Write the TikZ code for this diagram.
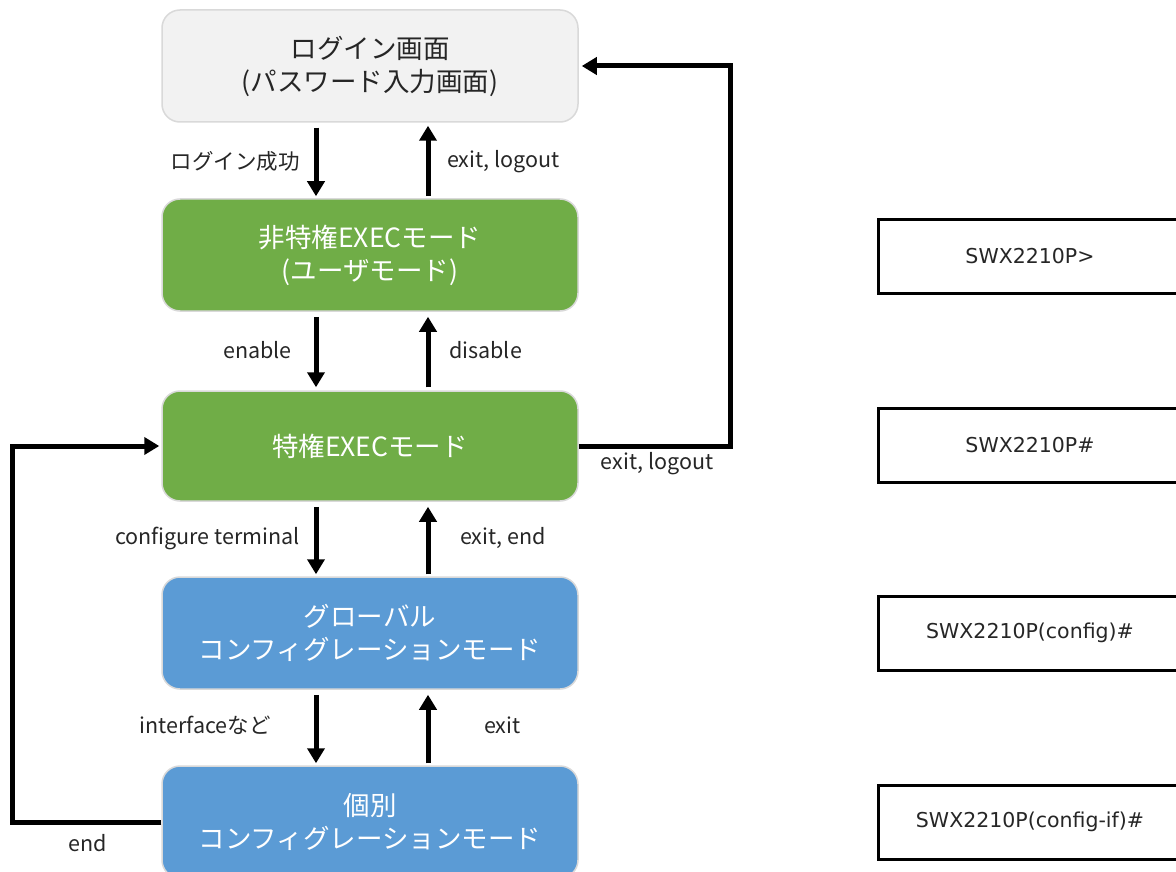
\documentclass[tikz,border=0pt]{standalone}
\usepackage{fontspec}
\setmainfont{Noto Sans CJK JP}
\newfontfamily\promptfont{DejaVu Sans}
\usetikzlibrary{arrows.meta}
\definecolor{boxgray}{HTML}{F2F2F2}
\definecolor{boxgreen}{HTML}{70AD47}
\definecolor{boxblue}{HTML}{5B9BD5}
\definecolor{edgegray}{HTML}{D9D9D9}
\definecolor{txt}{HTML}{262626}
\tikzset{
  mode/.style={draw=edgegray, line width=1.5pt, rounded corners=18pt, minimum width=416pt, minimum height=112pt, align=center, font=\fontsize{26.5}{33}\selectfont, inner sep=0pt},
  prompt/.style={draw=black, line width=3pt, minimum width=304pt, minimum height=74pt, font=\promptfont\fontsize{20.5}{24}\selectfont, text=txt, inner sep=0pt},
  arr/.style={line width=5pt, -{Triangle[width=17pt,length=15pt]}},
  loop/.style={line width=5pt, -{Triangle[width=17pt,length=15pt]}},
  lbl/.style={font=\fontsize{21.5}{25}\selectfont, text=txt, inner sep=0pt}
}
\begin{document}
\begin{tikzpicture}[x=1pt,y=-1pt]
\useasboundingbox (0,0) rectangle (1176,872);
\fill[white] (0,0) rectangle (1176,872);
% mode boxes
\node[mode, fill=boxgray, text=txt] (login) at (370,66) {ログイン画面\\(パスワード入力画面)};
\node[mode, fill=boxgreen, text=white] (user) at (370,255) {非特権EXECモード\\(ユーザモード)};
\node[mode, fill=boxgreen, text=white, minimum height=110pt] (priv) at (370,446) {特権EXECモード};
\node[mode, fill=boxblue, text=white] (glob) at (370,633) {グローバル\\コンフィグレーションモード};
\node[mode, fill=boxblue, text=white] (indiv) at (370,822) {個別\\コンフィグレーションモード};
% prompt boxes
\node[prompt] (p1) at (1030,256) {SWX2210P>};
\node[prompt] (p2) at (1030,445) {SWX2210P\#};
\node[prompt] (p3) at (1030,633) {SWX2210P(config)\#};
\node[prompt] (p4) at (1030,822) {SWX2210P(config-if)\#};
% vertical arrows
\draw[arr, shorten <=5pt, shorten >=2pt] ([xshift=-54pt]login.south) -- ([xshift=-54pt]user.north);
\draw[arr, shorten <=2pt, shorten >=3pt] ([xshift=58pt]user.north) -- ([xshift=58pt]login.south);
\draw[arr, shorten <=5pt, shorten >=3pt] ([xshift=-54pt]user.south) -- ([xshift=-54pt]priv.north);
\draw[arr, shorten <=3pt, shorten >=5pt] ([xshift=58pt]priv.north) -- ([xshift=58pt]user.south);
\draw[arr, shorten <=5pt, shorten >=2pt] ([xshift=-54pt]priv.south) -- ([xshift=-54pt]glob.north);
\draw[arr, shorten <=2pt, shorten >=5pt] ([xshift=58pt]glob.north) -- ([xshift=58pt]priv.south);
\draw[arr, shorten <=5pt, shorten >=2pt] ([xshift=-54pt]glob.south) -- ([xshift=-54pt]indiv.north);
\draw[arr, shorten <=2pt, shorten >=5pt] ([xshift=58pt]indiv.north) -- ([xshift=58pt]glob.south);
% arrow labels
\node[lbl, anchor=east] (l1) at (300,161) {ログイン成功};
\node[lbl, anchor=west] (l2) at (447,162) {exit, logout};
\node[lbl, anchor=east] (l3) at (292,350) {enable};
\node[lbl, anchor=west] (l4) at (449,350) {disable};
\node[lbl, anchor=east] (l5) at (300,538) {configure terminal};
\node[lbl, anchor=west] (l6) at (460,538) {exit, end};
\node[lbl, anchor=east] (l7) at (271,725) {interfaceなど};
\node[lbl, anchor=west] (l8) at (484,725) {exit};
% loops
\coordinate (rc) at (730,446);
\coordinate (lc) at (12,822);
\draw[loop, shorten >=3pt] (priv.east) -- (rc) |- (login.east);
\draw[loop, shorten >=2pt] (indiv.west) -- (lc) |- (priv.west);
\node[lbl] (l9) at (657,464) {exit, logout};
\node[lbl] (l10) at (88,843) {end};
\end{tikzpicture}
\end{document}
